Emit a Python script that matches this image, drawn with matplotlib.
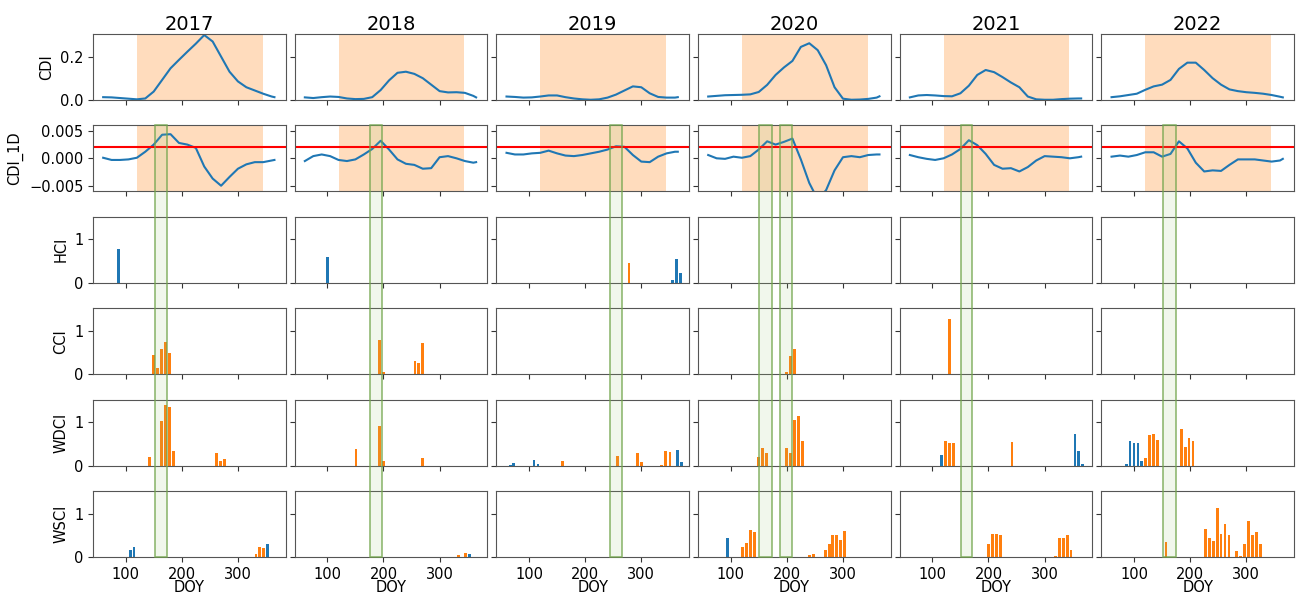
import matplotlib.pyplot as plt
import matplotlib.transforms as mtransforms
from matplotlib.patches import Rectangle

YEARS = [2017, 2018, 2019, 2020, 2021, 2022]

# day-of-year sampling of the smoothed indices
DOY = [60, 75, 90, 105, 120, 135, 150, 165, 180, 195, 210,
       225, 240, 255, 270, 285, 300, 315, 330, 345, 360, 365]

CDI_2017 = [0.012, 0.011, 0.008, 0.005, 0.002, 0.006, 0.038, 0.092, 0.146, 0.185, 0.223,
            0.26, 0.30, 0.27, 0.2, 0.13, 0.085, 0.058, 0.043, 0.028, 0.015, 0.012]
CDI_2018 = [0.011, 0.008, 0.012, 0.015, 0.013, 0.006, 0.003, 0.004, 0.012, 0.045, 0.09,
            0.125, 0.13, 0.12, 0.1, 0.07, 0.04, 0.034, 0.035, 0.032, 0.018, 0.011]
CDI_2019 = [0.015, 0.013, 0.01, 0.011, 0.015, 0.02, 0.02, 0.012, 0.006, 0.002, 0.0,
            0.002, 0.01, 0.024, 0.043, 0.062, 0.058, 0.03, 0.013, 0.01, 0.01, 0.012]
CDI_2020 = [0.015, 0.018, 0.021, 0.022, 0.023, 0.025, 0.036, 0.069, 0.115, 0.15, 0.18,
            0.245, 0.262, 0.23, 0.16, 0.058, 0.005, 0.0, 0.001, 0.004, 0.01, 0.016]
CDI_2021 = [0.011, 0.02, 0.022, 0.02, 0.017, 0.016, 0.03, 0.065, 0.115, 0.138, 0.128,
            0.105, 0.08, 0.058, 0.015, 0.002, 0.0, 0.0, 0.003, 0.005, 0.006, 0.006]
CDI_2022 = [0.012, 0.016, 0.022, 0.028, 0.046, 0.062, 0.07, 0.092, 0.143, 0.172, 0.172,
            0.138, 0.1, 0.07, 0.048, 0.04, 0.035, 0.032, 0.028, 0.022, 0.014, 0.011]

CDI_1D_2017 = [0.0001, -0.0003, -0.0003, -0.0002, 0.0001, 0.0012, 0.0025, 0.0043, 0.0044, 0.0028, 0.0025,
               0.0019, -0.0015, -0.0037, -0.0050, -0.0034, -0.0019, -0.0011, -0.0007, -0.0007, -0.0004, -0.0003]
CDI_1D_2018 = [-0.0005, 0.0004, 0.0007, 0.0004, -0.0003, -0.0005, -0.0002, 0.0007, 0.0017, 0.0032, 0.0016,
               -0.0002, -0.001, -0.0012, -0.0019, -0.0018, 0.0002, 0.0004, 0.0, -0.0005, -0.0008, -0.0007]
CDI_1D_2019 = [0.001, 0.0007, 0.0007, 0.0009, 0.001, 0.0014, 0.0009, 0.0005, 0.0004, 0.0006, 0.0009,
               0.0012, 0.0016, 0.0022, 0.0021, 0.0006, -0.0006, -0.0007, 0.0003, 0.0009, 0.0012, 0.0012]
CDI_1D_2020 = [0.0006, 0.0, -0.0001, 0.0003, 0.0001, 0.0004, 0.0016, 0.0031, 0.0025, 0.003, 0.0036,
               -0.0002, -0.0045, -0.0075, -0.0058, -0.0022, 0.0002, 0.0004, 0.0002, 0.0006, 0.0007, 0.0007]
CDI_1D_2021 = [0.0006, 0.0002, -0.0001, -0.0003, 0.0, 0.0007, 0.0017, 0.0033, 0.0024, 0.0008, -0.0012,
               -0.0019, -0.0018, -0.0024, -0.0016, -0.0004, 0.0004, 0.0003, 0.0002, 0.0, 0.0002, 0.0003]
CDI_1D_2022 = [0.0003, 0.0005, 0.0003, 0.0006, 0.0011, 0.0011, 0.0003, 0.0008, 0.0031, 0.0018, -0.0008,
               -0.0024, -0.0022, -0.0023, -0.0012, -0.0002, -0.0002, -0.0002, -0.0004, -0.0006, -0.0004, -0.0001]

CDI = [CDI_2017, CDI_2018, CDI_2019, CDI_2020, CDI_2021, CDI_2022]
CDI_1D = [CDI_1D_2017, CDI_1D_2018, CDI_1D_2019, CDI_1D_2020, CDI_1D_2021, CDI_1D_2022]

# growing season and the onset threshold of CDI_1D
SEASON = (120, 344)
CDI_1D_THRESHOLD = 0.002

# weekly compound event indices: (doy, value), first kind drawn blue, second orange
HCI_BLUE = {2017: [(87, 0.77)], 2018: [(100, 0.6)],
            2019: [(356, 0.05), (363, 0.55), (370, 0.23)]}
HCI_ORANGE = {2019: [(278, 0.45)]}

CCI_BLUE = {}
CCI_ORANGE = {2017: [(150, 0.45), (157, 0.15), (164, 0.57), (171, 0.73), (178, 0.48)],
              2018: [(193, 0.78), (200, 0.05), (256, 0.3), (263, 0.25), (270, 0.72)],
              2020: [(200, 0.05), (207, 0.42), (214, 0.57)],
              2021: [(130, 1.27)]}

WDCI_BLUE = {2019: [(67, 0.02), (73, 0.06), (109, 0.13), (116, 0.03), (365, 0.35), (372, 0.08)],
             2021: [(116, 0.24), (354, 0.72), (361, 0.33), (368, 0.04)],
             2022: [(86, 0.03), (93, 0.56), (100, 0.53), (107, 0.53), (114, 0.1)]}
WDCI_ORANGE = {2017: [(143, 0.19), (164, 1.04), (171, 1.39), (178, 1.35), (185, 0.33),
                      (262, 0.3), (269, 0.1), (276, 0.14)],
               2018: [(151, 0.39), (193, 0.92), (200, 0.1), (270, 0.18)],
               2019: [(159, 0.1), (258, 0.22), (293, 0.28), (300, 0.08), (336, 0.02),
                      (343, 0.33), (351, 0.32)],
               2020: [(150, 0.19), (157, 0.4), (164, 0.3), (200, 0.41), (207, 0.3),
                      (214, 1.05), (221, 1.14), (228, 0.56)],
               2021: [(123, 0.56), (130, 0.52), (137, 0.51), (242, 0.55)],
               2022: [(121, 0.18), (128, 0.7), (135, 0.73), (142, 0.58),
                      (184, 0.84), (191, 0.42), (198, 0.64), (205, 0.56)]}

WSCI_BLUE = {2017: [(108, 0.15), (115, 0.22), (353, 0.31)],
             2018: [(353, 0.06)],
             2020: [(95, 0.44)],
             2021: [(88, 0.01)]}
WSCI_ORANGE = {2017: [(332, 0.06), (339, 0.24), (346, 0.21)],
               2018: [(333, 0.05), (346, 0.1)],
               2020: [(121, 0.24), (128, 0.33), (136, 0.63), (143, 0.57), (241, 0.04),
                      (248, 0.07), (269, 0.15), (276, 0.31), (282, 0.5), (289, 0.5),
                      (296, 0.39), (303, 0.61)],
               2021: [(200, 0.31), (207, 0.53), (214, 0.52), (221, 0.5), (319, 0.02),
                      (326, 0.44), (333, 0.44), (340, 0.51), (347, 0.16)],
               2022: [(157, 0.35), (227, 0.64), (234, 0.44), (241, 0.36), (248, 1.13),
                      (255, 0.54), (262, 0.76), (269, 0.5), (283, 0.13), (290, 0.02),
                      (297, 0.31), (304, 0.84), (311, 0.5), (318, 0.58), (325, 0.3)]}

BAR_ROWS = [("HCI", HCI_BLUE, HCI_ORANGE),
            ("CCI", CCI_BLUE, CCI_ORANGE),
            ("WDCI", WDCI_BLUE, WDCI_ORANGE),
            ("WSCI", WSCI_BLUE, WSCI_ORANGE)]

# detected onset windows (DOY start, end)
ONSET_WINDOWS = {2017: [(153, 173)], 2018: [(176, 198)], 2019: [(244, 265)],
                 2020: [(151, 173), (188, 210)], 2021: [(151, 170)], 2022: [(151, 175)]}


plt.rcParams["font.size"] = 10.5
fig, axes = plt.subplots(6, 6, sharex="col", sharey="row", figsize=(12.96, 5.96), dpi=100)
fig.subplots_adjust(left=0.0718, right=0.9985, top=0.943, bottom=0.0655,
                    wspace=0.047, hspace=0.39)

for c, year in enumerate(YEARS):
    ax = axes[0, c]
    ax.axvspan(*SEASON, color="C1", alpha=0.27, lw=0)
    ax.plot(DOY, CDI[c], color="C0", lw=1.5)
    ax.set_title(str(year), fontsize=14, pad=3)

    ax = axes[1, c]
    ax.axvspan(*SEASON, color="C1", alpha=0.27, lw=0)
    ax.plot(DOY, CDI_1D[c], color="C0", lw=1.5)
    ax.axhline(CDI_1D_THRESHOLD, color="red", lw=1.5)

    for r, (name, blue, orange) in enumerate(BAR_ROWS, start=2):
        ax = axes[r, c]
        for series, color in ((blue, "C0"), (orange, "C1")):
            pts = series.get(year, [])
            if pts:
                ax.bar([p[0] for p in pts], [p[1] for p in pts], width=5, color=color)

    axes[5, c].set_xlabel("DOY", labelpad=-1)

for ax in axes.flat:
    ax.set_xlim(42, 385)
    ax.set_xticks([100, 200, 300])
    ax.tick_params(colors="#333333", labelcolor="black")
    for s in ax.spines.values():
        s.set_color("#555555")

axes[0, 0].set_ylim(0, 0.305)
axes[0, 0].set_yticks([0.0, 0.2])
axes[0, 0].set_ylabel("CDI")
axes[1, 0].set_ylim(-0.006, 0.006)
axes[1, 0].set_yticks([-0.005, 0.0, 0.005])
axes[1, 0].set_ylabel("CDI_1D")
for r, (name, _, _) in enumerate(BAR_ROWS, start=2):
    axes[r, 0].set_ylim(0, 1.52)
    axes[r, 0].set_yticks([0, 1])
    axes[r, 0].set_ylabel(name)

# onset windows run from the CDI_1D panel down through the index panels
for c, year in enumerate(YEARS):
    y_top = axes[1, c].get_position().y1
    y_bot = axes[5, c].get_position().y0
    trans = mtransforms.blended_transform_factory(axes[1, c].transData, fig.transFigure)
    for start, end in ONSET_WINDOWS[year]:
        fig.add_artist(Rectangle((start, y_bot), end - start, y_top - y_bot,
                                 transform=trans, facecolor=(0.6, 0.78, 0.45, 0.13),
                                 edgecolor=(0.45, 0.65, 0.3, 0.85), lw=1.1, zorder=5))

fig.savefig("out.png", dpi=100)
